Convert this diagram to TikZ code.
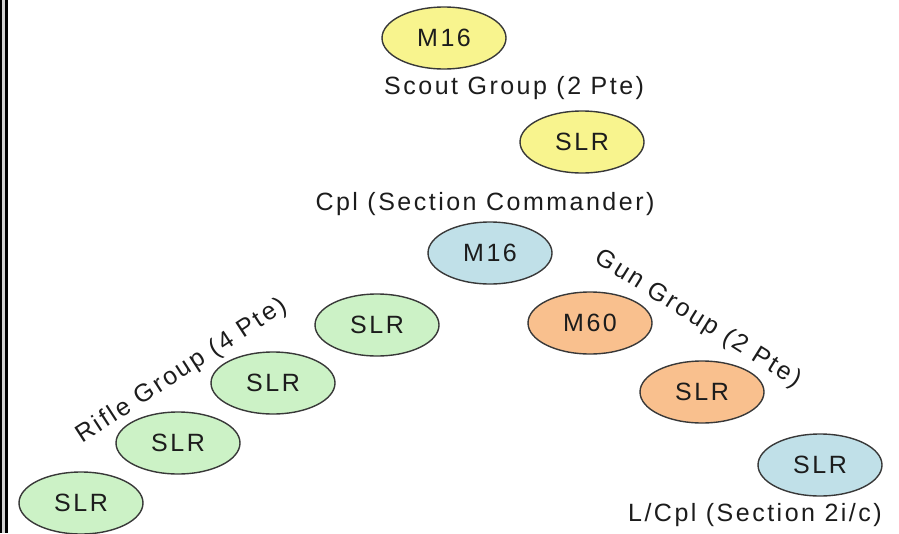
\documentclass[tikz,border=0pt]{standalone}
\usepackage{fontspec}
\setmainfont[LetterSpace=10]{Liberation Sans}
\usetikzlibrary{positioning,shapes.geometric}

\definecolor{scoutfill}{HTML}{F8F48E}
\definecolor{cmdfill}{HTML}{C0E0E8}
\definecolor{riflefill}{HTML}{CCF2C6}
\definecolor{gunfill}{HTML}{F9C08E}
\definecolor{rim}{HTML}{383838}
\definecolor{ink}{HTML}{1C1C1C}

\begin{document}
\begin{tikzpicture}[x=1pt, y=-1pt,
    weapon/.style={ellipse, draw=rim, line width=1.4pt, minimum width=124pt, minimum height=62pt, inner sep=0pt, text=ink, font=\fontsize{25}{30}\selectfont},
    lbl/.style={inner sep=0pt, text=ink, font=\fontsize{25}{30}\selectfont}]

    \useasboundingbox (0,0) rectangle (899,533);

    % 边框
    \fill[gray!35] (1.5,0) rectangle (5.5,533);
    \draw[line width=1.5pt] (0.75,0) -- (0.75,533);
    \draw[line width=2.5pt] (6.5,0) -- (6.5,533);

    % 侦察组
    \node[weapon, fill=scoutfill] (scout1) at (444,38) {M16};
    \node[weapon, fill=scoutfill] (scout2) at (582,142) {SLR};
    \node[lbl, anchor=west] (scoutlbl) at (384,88) {Scout Group (2 Pte)};

    % 班长
    \node[weapon, fill=cmdfill] (cmd) at (490,253) {M16};
    \node[lbl] (cmdlbl) at (485,204) {Cpl (Section Commander)};

    % 步枪组
    \node[weapon, fill=riflefill] (rifle1) at (377,325) {SLR};
    \node[weapon, fill=riflefill] (rifle2) at (273,383) {SLR};
    \node[weapon, fill=riflefill] (rifle3) at (178,443) {SLR};
    \node[weapon, fill=riflefill] (rifle4) at (81,503) {SLR};
    \node[lbl, rotate=33] (riflelbl) at (182,371) {Rifle Group (4 Pte)};

    % 机枪组
    \node[weapon, fill=gunfill] (gun1) at (590,323) {M60};
    \node[weapon, fill=gunfill] (gun2) at (702,392) {SLR};
    \node[lbl, rotate=-32] (gunlbl) at (698,319) {Gun Group (2 Pte)};

    % 副班长
    \node[weapon, fill=cmdfill] (second) at (820,465) {SLR};
    \node[lbl, anchor=east] (secondlbl) at (882,515) {L/Cpl (Section 2i/c)};

\end{tikzpicture}
\end{document}
